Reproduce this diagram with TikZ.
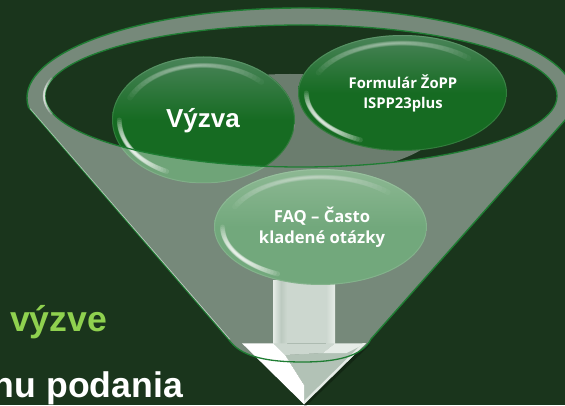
\documentclass[tikz,border=0pt]{standalone}
\usepackage{fontspec}
\setmainfont{Liberation Sans}
\newfontfamily\ballfont{Open Sans}
\definecolor{bgdark}{HTML}{1A351C}
\definecolor{rimgray}{HTML}{76897A}
\definecolor{innergray}{HTML}{6B7D6E}
\definecolor{rimgreen}{HTML}{1F7D33}
\definecolor{limetext}{HTML}{8FD14F}
\definecolor{ballmain}{HTML}{166B22}
\definecolor{balltop}{HTML}{4A8459}
\definecolor{ghostmain}{HTML}{6FA478}
\definecolor{faqmain}{HTML}{72A87C}
\definecolor{faqtop}{HTML}{8DB893}
\definecolor{shaftmain}{HTML}{CCD7CF}
\definecolor{shaftdark}{HTML}{BCCAC0}
\definecolor{shaftlight}{HTML}{E6ECE7}
\definecolor{headface}{HTML}{B2C2B6}
\tikzset{
  rimline/.style={draw=rimgreen,line width=1.4pt},
  bigtext/.style={font=\bfseries\fontsize{35.6}{40}\selectfont,inner sep=0pt},
  formtext/.style={font=\ballfont\bfseries\fontsize{14.8}{20}\selectfont,text=white,align=center,inner sep=0pt},
  faqtext/.style={font=\ballfont\bfseries\fontsize{16.6}{21}\selectfont,text=white,align=center,inner sep=0pt},
}
\newcommand{\glossball}[6]{%
  \begin{scope}
    \clip (#1,#2) ellipse [x radius=#3,y radius=#4];
    \fill[#6] (#1-#3,#2-#4) rectangle (#1+#3,#2+#4);
    \shade[top color=#5,bottom color=#6] (#1-#3,#2) rectangle (#1+#3,#2+#4);
    \draw[white,opacity=.12,line width=2pt] (#1,#2) ellipse [x radius=#3,y radius=#4];
    \foreach \i [evaluate=\i as \hs using 56-\i*3.4, evaluate=\i as \wd using 5.5-\i*.3] in {0,...,15}{
      \draw[white,line width=\wd pt,opacity=.04,line cap=round]
        (#1,#2) ++({100-\hs}:{#3*.88} and {#4*.86}) arc [start angle={100-\hs},end angle={100+\hs},x radius=#3*.88,y radius=#4*.86];
    }
    \foreach \i [evaluate=\i as \hs using 32-\i*2, evaluate=\i as \wd using 5-\i*.28] in {0,...,14}{
      \draw[white,line width=\wd pt,opacity=.12,line cap=round]
        (#1,#2) ++({212-\hs}:{#3*.92} and {#4*.9}) arc [start angle={212-\hs},end angle={212+\hs},x radius=#3*.92,y radius=#4*.9];
    }
  \end{scope}}
\begin{document}
\begin{tikzpicture}[x=1pt,y=1pt]
\useasboundingbox (0,0) rectangle (565,405);
\clip (0,0) rectangle (565,405);
\fill[bgdark] (0,0) rectangle (565,405);
\node[bigtext,text=limetext,anchor=base west] (lime) at (10,74) {výzve};
\node[bigtext,text=white,anchor=base east] (whitetext) at (183,8) {nu podania};
% arrow shadow
\fill[black,opacity=.25] (304,-3) -- (370,60) -- (366,61.7) -- (304,0.7) -- cycle;
% funnel silhouette
\fill[rimgray] (28.5,297.6) arc [start angle=186,end angle=-10,x radius=274,y radius=90]
  -- (371,66) .. controls (362,48) and (335,43) .. (303,43) .. controls (262,43) and (240,50) .. (229,65) -- cycle;
% cone edges
\draw[rimline] (28.5,297.6) arc [start angle=186,end angle=-10,x radius=274,y radius=90] -- (371,66);
\draw[rimgreen,line width=1.1pt] (28.5,297.6) -- (229,65);
\draw[white,opacity=.55,line width=.7pt] (30,296.5) -- (230,65.5);
% Výzva seen through the cone
\glossball{203.5}{285}{91.5}{63.5}{ghostmain}{ghostmain}
% arrow shaft
\fill[shaftmain] (273,125) rectangle (335,61.7);
\shade[left color=shaftlight,right color=shaftdark] (273,125) rectangle (281,61.7);
\shade[left color=shaftdark,right color=shaftmain] (281,125) rectangle (287,61.7);
\shade[left color=shaftmain,right color=shaftlight] (326,125) rectangle (335,61.7);
% arrow head
\fill[headface] (285,50) -- (304,20) -- (304,0.7) -- (366,61.7) -- (347,52) -- (323,52) -- cycle;
\fill[shaftmain] (273,61.7) -- (285,50) -- (323,52) -- (335,61.7) -- cycle;
\fill[white] (242,61.7) -- (273,61.7) -- (285,50) -- (304,20) -- (304,0.7) -- cycle;
\fill[shaftlight] (335,61.7) -- (366,61.7) -- (347,52) -- (323,52) -- cycle;
\fill[shaftlight] (304,0.7) -- (366,61.7) -- (363,62) -- (304,4) -- cycle;
% funnel mouth
\draw[rimgreen,line width=1.3pt] (371,66) .. controls (362,48) and (335,43) .. (303,43) .. controls (262,43) and (240,50) .. (229,65);
% inside of the mouth
\begin{scope}
  \clip (301,309) ellipse [x radius=256,y radius=71];
  \fill[bgdark] (301,309) ellipse [x radius=256,y radius=71];
  \fill[innergray] (290,280) ellipse [x radius=150,y radius=51];
  \glossball{203.5}{285}{91.5}{63.5}{balltop}{ballmain}
\end{scope}
\draw[rimgreen,line width=1.3pt] (301,309) ellipse [x radius=256,y radius=71];
\foreach \i [evaluate=\i as \hs using 14-\i*2, evaluate=\i as \wd using 2.6-\i*.3] in {0,...,6}{
  \draw[white,opacity=.2,line width=\wd pt,line cap=round] (301,309) ++({180-\hs}:{257} and {72}) arc [start angle={180-\hs},end angle={180+\hs},x radius=257,y radius=72];
}
% balls
\glossball{402.5}{312}{104.5}{58}{balltop}{ballmain}
\glossball{320.5}{178}{106.5}{58}{faqtop}{faqmain}
% labels
\node[font=\bfseries\fontsize{26}{30}\selectfont,text=white,inner sep=0pt,anchor=base] (vyzva) at (203,277) {Výzva};
\node[formtext] (formular) at (403,312) {Formulár ŽoPP\\ISPP23plus};
\node[faqtext] (faq) at (322,178) {FAQ – Často\\kladené otázky};
\end{tikzpicture}
\end{document}
